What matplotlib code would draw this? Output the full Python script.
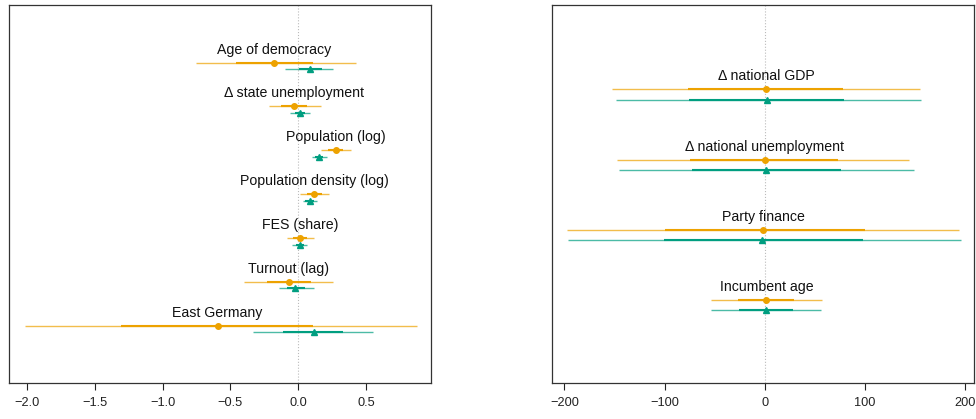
import matplotlib
matplotlib.use('Agg')
import matplotlib.pyplot as plt

plt.rcParams['font.family'] = ['Liberation Sans', 'DejaVu Sans']

ORANGE = '#EDA200'
GREEN = '#009E80'

# left panel: state-level covariates
left_labels = ['Age of democracy', '\u0394 state unemployment', 'Population (log)',
               'Population density (log)', 'FES (share)', 'Turnout (lag)', 'East Germany']
left_o_est = [-0.177, -0.034, 0.278, 0.116, 0.015, -0.071, -0.594]
left_o_lo95 = [-0.754, -0.218, 0.169, 0.013, -0.081, -0.398, -2.014]
left_o_hi95 = [0.425, 0.165, 0.388, 0.226, 0.116, 0.256, 0.872]
left_o_lo50 = [-0.461, -0.128, 0.221, 0.062, -0.037, -0.233, -1.307]
left_o_hi50 = [0.111, 0.062, 0.332, 0.172, 0.066, 0.094, 0.111]
left_g_est = [0.086, 0.013, 0.153, 0.084, 0.010, -0.022, 0.116]
left_g_lo95 = [-0.098, -0.061, 0.099, 0.032, -0.044, -0.144, -0.336]
left_g_hi95 = [0.253, 0.086, 0.209, 0.136, 0.062, 0.116, 0.548]
left_g_lo50 = [0.005, -0.024, 0.123, 0.052, -0.015, -0.085, -0.111]
left_g_hi50 = [0.172, 0.049, 0.184, 0.116, 0.039, 0.049, 0.332]
left_ticks = [-2.0, -1.5, -1.0, -0.5, 0.0, 0.5]

# right panel: national covariates
right_labels = ['\u0394 national GDP', '\u0394 national unemployment', 'Party finance', 'Incumbent age']
right_o_est = [1.5, 0.0, -1.5, 1.5]
right_o_lo95 = [-152.7, -147.4, -197.0, -53.7]
right_o_hi95 = [154.8, 144.1, 193.7, 57.1]
right_o_lo50 = [-76.3, -74.9, -99.8, -26.4]
right_o_hi50 = [78.3, 72.7, 100.0, 29.4]
right_g_est = [1.9, 0.9, -2.5, 0.9]
right_g_lo95 = [-148.1, -145.4, -196.0, -53.7]
right_g_hi95 = [155.5, 148.8, 195.7, 56.4]
right_g_lo50 = [-75.6, -72.9, -100.5, -25.7]
right_g_hi50 = [79.0, 76.0, 98.3, 28.4]
right_ticks = [-200, -100, 0, 100, 200]


def draw_panel(ax, labels, o, g, ticks, xlim, ylim, fmt):
    n = len(labels)
    for i, lab in enumerate(labels):
        y = n - i
        yg = y - 0.145
        for (est, lo95, hi95, lo50, hi50), yy, col, mk, ms in [
                (o, y, ORANGE, 'o', 4.0), (g, yg, GREEN, '^', 4.6)]:
            ax.plot([lo95[i], hi95[i]], [yy, yy], color=col, lw=1.0, alpha=0.7,
                    solid_capstyle='butt')
            ax.plot([lo50[i], hi50[i]], [yy, yy], color=col, lw=1.5,
                    solid_capstyle='butt')
            ax.plot(est[i], yy, marker=mk, color=col, ms=ms, mec=col)
        ax.annotate(lab, (o[0][i], y), xytext=(0, 6.5), textcoords='offset points',
                    ha='center', va='baseline', fontsize=10.2, color='#111111')
    ax.axvline(0, color='#bbbbbb', lw=0.8, ls=':', zorder=0)
    ax.set_xlim(*xlim)
    ax.set_ylim(*ylim)
    ax.set_yticks([])
    ax.set_xticks(ticks)
    ax.set_xticklabels([fmt.format(t).replace('-', '\u2212') for t in ticks])
    ax.tick_params(axis='x', length=5, width=0.8, pad=5, labelsize=9.2,
                   colors='#222222')
    for s in ax.spines.values():
        s.set_color('#333333')
        s.set_linewidth(0.9)


fig = plt.figure(figsize=(9.76, 4.19), dpi=100)
ax1 = fig.add_axes([0.0092, 0.0859, 0.4329, 0.9021])
ax2 = fig.add_axes([0.5653, 0.0859, 0.4330, 0.9021])

draw_panel(ax1, left_labels,
           (left_o_est, left_o_lo95, left_o_hi95, left_o_lo50, left_o_hi50),
           (left_g_est, left_g_lo95, left_g_hi95, left_g_lo50, left_g_hi50),
           left_ticks, (-2.132, 0.982), (-0.30, 8.31), '{:.1f}')
draw_panel(ax2, right_labels,
           (right_o_est, right_o_lo95, right_o_hi95, right_o_lo50, right_o_hi50),
           (right_g_est, right_g_lo95, right_g_hi95, right_g_lo50, right_g_hi50),
           right_ticks, (-212.6, 209.0), (-0.18, 5.2), '{:d}')

fig.savefig('out.png', dpi=100)
